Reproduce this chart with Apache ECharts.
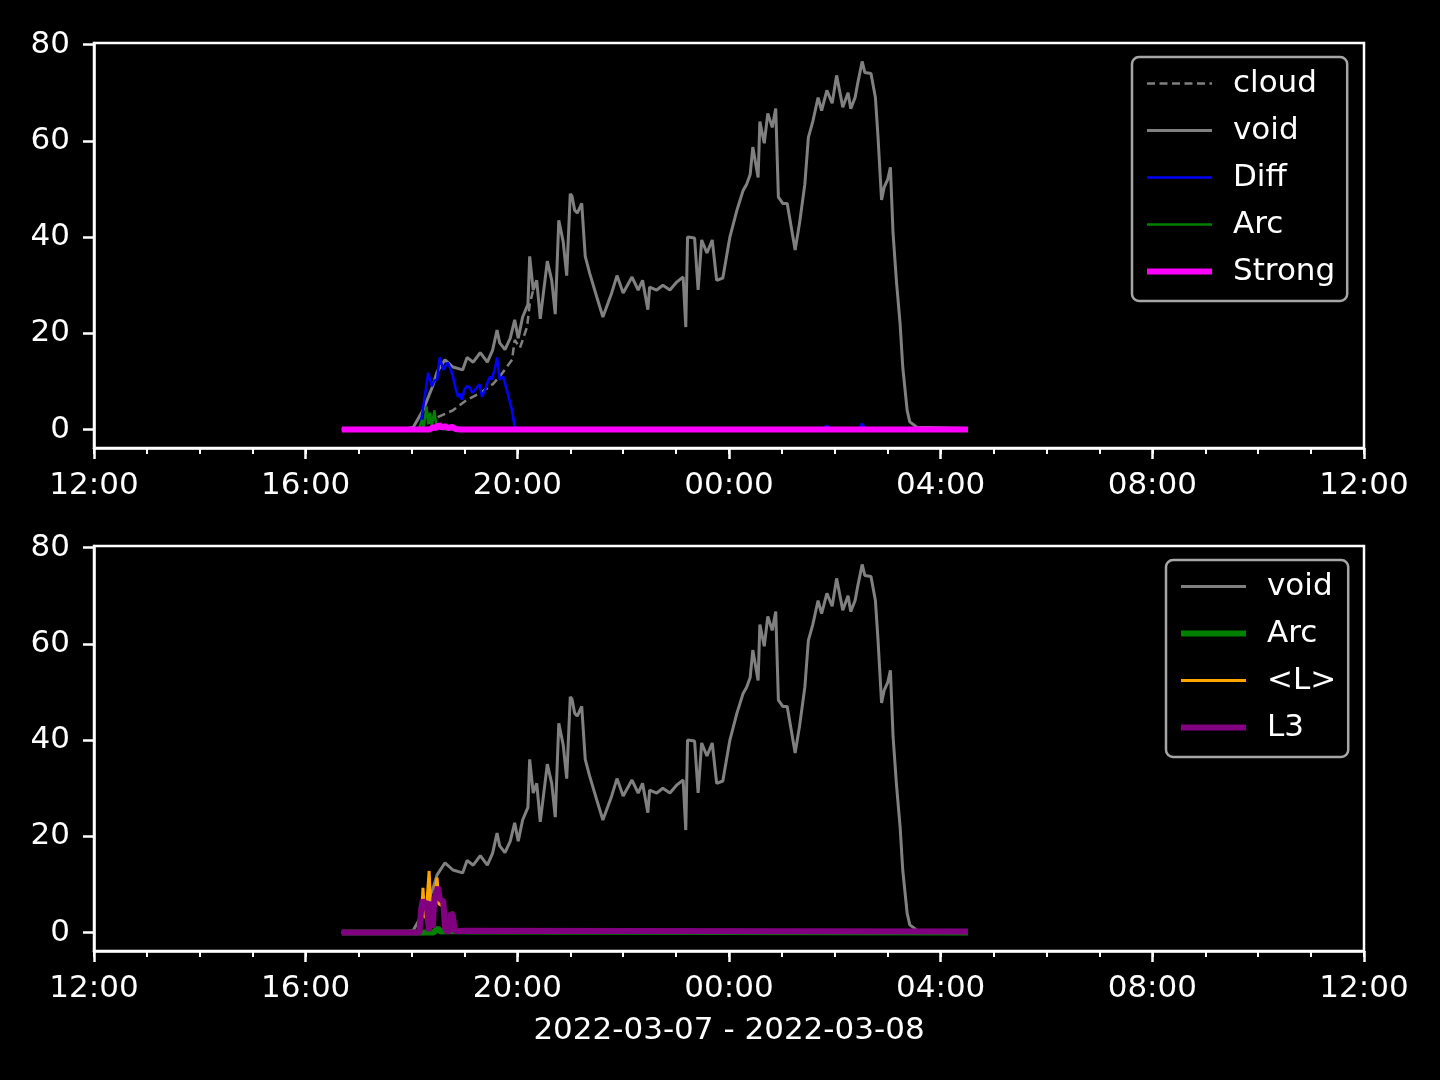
<!DOCTYPE html>
<html><head><meta charset="utf-8">
<script src="https://cdn.jsdelivr.net/npm/echarts@6/dist/echarts.min.js"></script>
<style>html,body{margin:0;padding:0;background:#000}#c{width:1440px;height:1080px}</style>
</head><body><div id="c"></div>
<script>
// ---------- data (times are HH:MM on 2022-03-07 / 2022-03-08) ----------
const voidTimes = ['16:41','17:55','18:02','18:13','18:24','18:29','18:38','18:47','18:58','19:03','19:10','19:18','19:26','19:32','19:37','19:40','19:46','19:52','19:57','20:01','20:06','20:12','20:14','20:18','20:22','20:26','20:34','20:39','20:43','20:47','20:52','20:56','21:00','21:02','21:05','21:08','21:13','21:17','21:22','21:30','21:37','21:47','21:53','22:00','22:10','22:17','22:22','22:28','22:30','22:38','22:45','22:53','23:01','23:08','23:11','23:13','23:21','23:25','23:29','23:35','23:41','23:46','23:53','00:01','00:09','00:16','00:20','00:24','00:27','00:33','00:35','00:40','00:44','00:49','00:53','00:56','01:01','01:06','01:15','01:20','01:26','01:30','01:35','01:41','01:45','01:51','01:57','02:02','02:09','02:15','02:18','02:23','02:26','02:31','02:34','02:41','02:46','02:49','02:53','02:56','03:00','03:03','03:06','03:10','03:14','03:17','03:22','03:25','03:33','04:31'];
const voidValues = [0,0.2,0.5,4,9,12,14.5,13,12.4,15,14,16,14,16.5,20.7,18,16.6,19,22.8,19,23.4,26,36,29,31,23,35,31,24,43.5,39,32,49,48.5,45.6,45,47,36,32.5,27.6,23.4,28.4,32,28.4,31.7,29,31,24.9,29.6,29,30,29,30.7,31.7,21.3,40,39.8,29,39.4,36.7,39.4,31,31.5,40,45.6,49.7,51,53,58.7,52.4,64,59.5,65.7,62.8,66.7,48.3,47,47,37.3,42.9,51,60.7,64,69,66.3,70.5,67.8,73.6,67,70,66.7,69,72,76.5,74.2,74,69,60.7,47.7,50.4,52,54.5,40.8,30.5,22,13,4,1.6,0.5,0.2];

const cloudTimes = ['16:41','18:10','18:16','18:31','18:47','19:03','19:18','19:32','19:40','19:48','19:54','19:57','20:03','20:06','20:11','20:14','20:18','20:22'];
const cloudValues = [0,0,1,2.7,4,6.2,7.6,9.4,11,13,14.5,18.6,17,18.6,21.3,26,29,31];

const diffTimes = ['16:41','18:05','18:10','18:15','18:19','18:23','18:26','18:29','18:32','18:36','18:41','18:44','18:47','18:50','18:53','18:55','18:57','19:00','19:03','19:06','19:09','19:11','19:14','19:17','19:20','19:23','19:26','19:29','19:31','19:35','19:37','19:40','19:44','19:48','19:54','19:57','20:03','01:45','01:51','01:56','02:27','02:31','02:35','04:31'];
const diffValues = [0,0,0.6,6.8,11.8,9,10.2,10.4,15,12.4,13.9,12.8,11,8.5,6.8,7.5,6.2,8.3,9,8.8,7.6,7.2,8.7,9.4,6.8,8,9.7,11,10.4,13,15,10.4,11,8.3,4,0.6,0.1,0.1,0.8,0.1,0.1,1.2,0.1,0];

const arcTimes = ['16:41','18:08','18:12','18:14','18:17','18:19','18:21','18:23','18:26','18:28','18:31','18:40','04:31'];
const arcValues = [0,0,2.0,0.6,4.8,1.2,3.5,0.8,4.0,1.0,0.3,0,0];

const strongTimes = ['16:41','18:20','18:25','18:28','18:31','18:35','18:38','18:42','18:46','18:50','18:55','04:31'];
const strongValues = [0,0,0.5,0.3,1.0,0.4,0.7,0.3,0.6,0.1,0,0];

const arc2Times = ['16:41','18:25','18:30','18:33','18:38','19:10','04:31'];
const arc2Values = [0,0,0.9,0.2,0.3,0.2,0];

const lMeanTimes = ['16:41','18:08','18:11','18:13','18:15','18:17','18:20','18:22','18:25','18:29','18:31','18:35','18:38','18:44','18:46','18:48','18:55','04:31'];
const lMeanValues = [0,0,2,9.3,3,5,12.8,4,6,11.4,6,5.5,1,0.5,4.3,0.5,0.3,0.2];

const l3Times = ['16:41','18:09','18:11','18:13','18:15','18:17','18:19','18:20','18:21','18:23','18:24','18:26','18:30','18:32','18:34','18:36','18:38','18:40','18:43','18:45','18:47','18:49','19:00','04:31'];
const l3Values = [0,0,5,6.8,6,6.5,2,0.3,6.4,5,1,7,9.5,7,6.8,6.5,1,0.2,0.3,4.1,3.5,0.3,0.4,0.2];

const xTickLabels = ['12:00','16:00','20:00','00:00','04:00','08:00','12:00'];
const yTickValues = [0,20,40,60,80];
const xAxisTitle = '2022-03-07 - 2022-03-08';
const legendTop = ['cloud','void','Diff','Arc','Strong'];
const legendBottom = ['void','Arc','<L>','L3'];

// ---------- helpers ----------
const FONT = 'DejaVu Sans';
const HOUR = 3600 * 1000;
const xMin = new Date(2022, 2, 7, 12, 0).getTime();
const xMax = xMin + 24 * HOUR;
function ts(hhmm) {
  const p = hhmm.split(':').map(Number);
  const day = p[0] >= 12 ? 7 : 8;
  return new Date(2022, 2, day, p[0], p[1]).getTime();
}
function pts(times, vals) { return times.map((t, i) => [ts(t), vals[i]]); }
const majorTicks = xTickLabels.map((_, i) => xMin + i * 4 * HOUR);
const minorTicks = [];
for (let i = 0; i <= 24; i++) minorTicks.push(xMin + i * HOUR);
function fmt(v) {
  let best = 0, bd = Infinity;
  majorTicks.forEach((t, i) => { const d = Math.abs(t - v); if (d < bd) { bd = d; best = i; } });
  return xTickLabels[best];
}
const W = '#ffffff';
const LW = 2.5;

function xAxesFor(g) {
  return [
    { type: 'value', gridIndex: g, min: xMin, max: xMax, position: 'bottom', scale: true,
      axisLine: { show: true, onZero: false, lineStyle: { color: W, width: LW } },
      axisTick: { show: true, customValues: majorTicks, length: 11, lineStyle: { color: W, width: LW } },
      axisLabel: { show: true, customValues: majorTicks, formatter: fmt, color: W, fontSize: 31, fontFamily: FONT, margin: 22, hideOverlap: false, showMinLabel: true, showMaxLabel: true },
      splitLine: { show: false } },
    { type: 'value', gridIndex: g, min: xMin, max: xMax, position: 'bottom', offset: 0, scale: true,
      axisLine: { show: false, onZero: false },
      axisTick: { show: true, customValues: minorTicks, length: 6, lineStyle: { color: W, width: 2 } },
      axisLabel: { show: false }, splitLine: { show: false } }
  ];
}
function yAxisFor(g) {
  return { type: 'value', gridIndex: g, min: -3.83, max: 80.33,
    axisLine: { show: true, onZero: false, lineStyle: { color: W, width: LW } },
    axisTick: { show: true, customValues: yTickValues, length: 11, lineStyle: { color: W, width: LW } },
    axisLabel: { show: true, customValues: yTickValues, color: W, fontSize: 31, fontFamily: FONT, margin: 24 },
    splitLine: { show: false } };
}
function line(name, times, vals, color, width, xi, yi, type) {
  return { type: 'line', name: name, xAxisIndex: xi, yAxisIndex: yi, data: pts(times, vals),
    symbol: 'none', showSymbol: false, animation: false, clip: true,
    lineStyle: { color: color, width: width, type: type || 'solid' },
    itemStyle: { color: color } };
}
function legendFor(names, widths, left, top) {
  return { orient: 'vertical', left: left, top: top, selectedMode: false,
    data: names.map((n, i) => ({ name: n, lineStyle: { width: widths[i] }, itemStyle: { opacity: 0 } })),
    formatter: n => n.trim(),
    backgroundColor: '#000', borderColor: '#a6a6a6', borderWidth: 2.5, borderRadius: 7,
    padding: [11, 12, 14, 12], itemWidth: 65, itemHeight: 30, itemGap: 16,
    textStyle: { color: W, fontSize: 31, fontFamily: FONT, lineHeight: 31, padding: [0, 0, 0, 16] } };
}

const chart = echarts.init(document.getElementById('c'), null, { renderer: 'canvas' });
chart.setOption({
  backgroundColor: '#000',
  animation: false,
  grid: [
    { left: 94, top: 43, width: 1270, height: 405, show: true, borderColor: W, borderWidth: LW, backgroundColor: 'transparent' },
    { left: 94, top: 546, width: 1270, height: 405, show: true, borderColor: W, borderWidth: LW, backgroundColor: 'transparent' }
  ],
  xAxis: xAxesFor(0).concat(xAxesFor(1)),
  yAxis: [yAxisFor(0), yAxisFor(1)],
  legend: [
    legendFor(legendTop, [2.5, 3, 2.5, 2.5, 6], 1132, 57),
    legendFor(['void ', 'Arc ', '<L>', 'L3'], [3, 6, 3, 6], 1166, 560)
  ],
  series: [
    line('cloud', cloudTimes, cloudValues, '#808080', 2.5, 0, 0, [8, 4.5]),
    line('void', voidTimes, voidValues, '#808080', 3, 0, 0),
    line('Diff', diffTimes, diffValues, '#0000ff', 2.5, 0, 0),
    line('Arc', arcTimes, arcValues, '#008000', 2.5, 0, 0),
    line('Strong', strongTimes, strongValues, '#ff00ff', 6, 0, 0),
    line('void ', voidTimes, voidValues, '#808080', 3, 2, 1),
    line('Arc ', arc2Times, arc2Values, '#008000', 6, 2, 1),
    line('<L>', lMeanTimes, lMeanValues, '#ffa500', 3, 2, 1),
    line('L3', l3Times, l3Values, '#800080', 6, 2, 1)
  ],
  graphic: [
    { type: 'text', x: 729, y: 1031, silent: true,
      style: { text: xAxisTitle, fill: W, font: '31px "DejaVu Sans"', align: 'center', verticalAlign: 'middle' } }
  ]
});
</script></body></html>
